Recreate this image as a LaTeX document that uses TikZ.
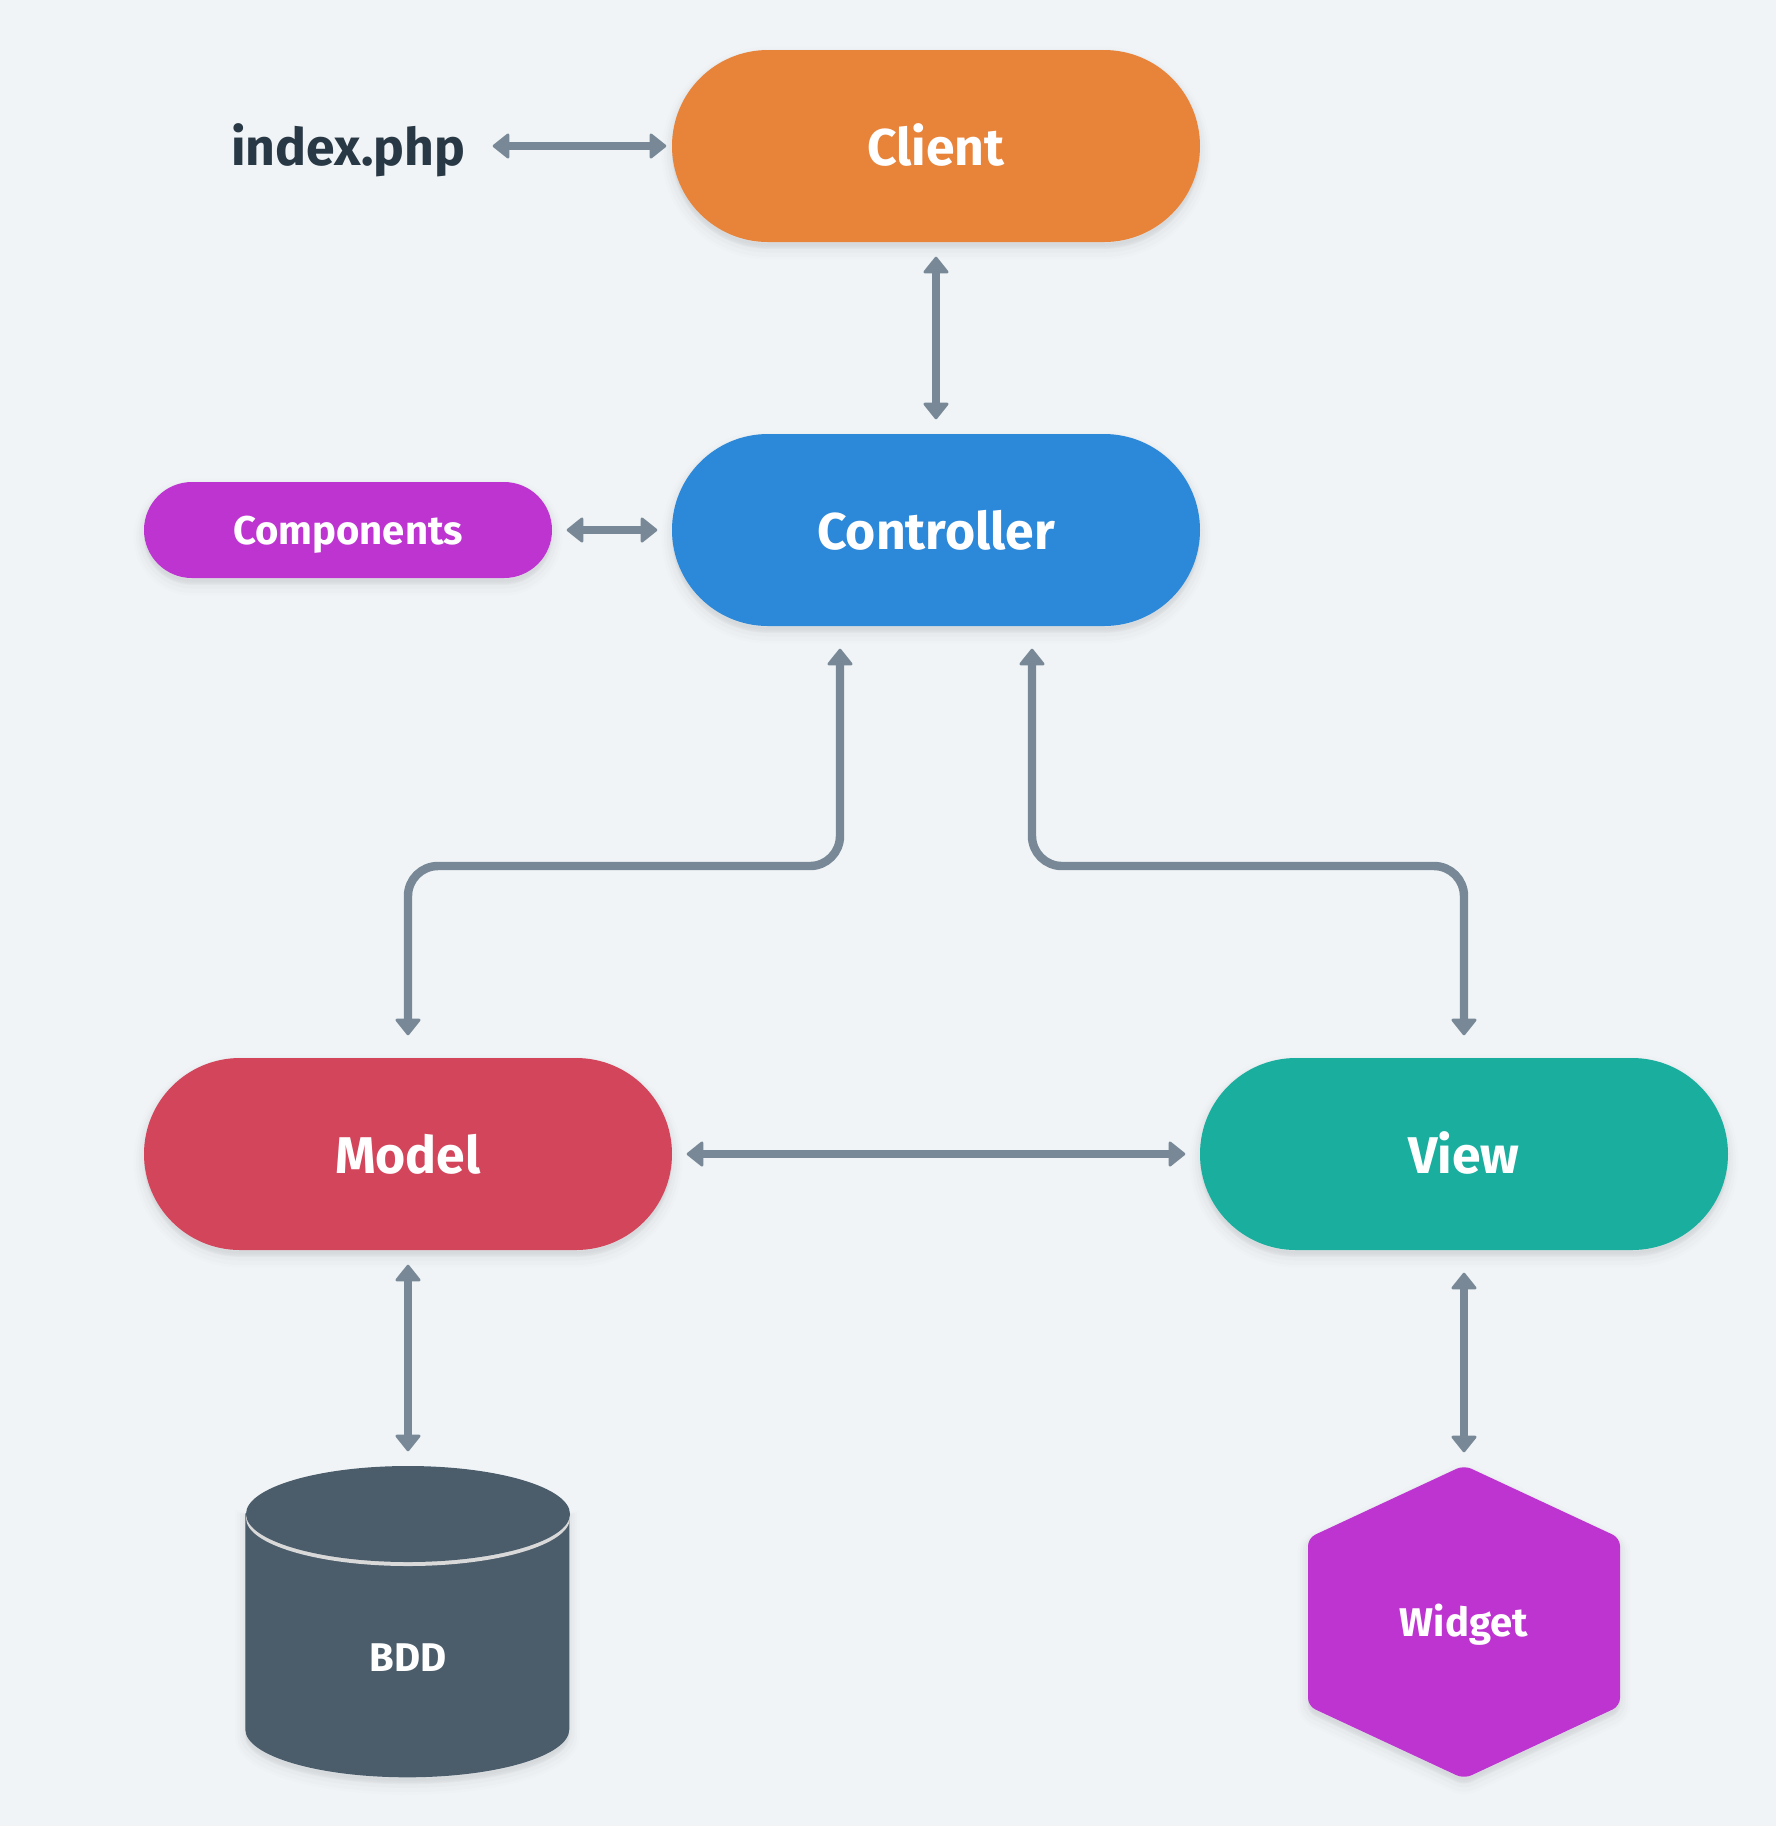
\documentclass[tikz,border=0pt]{standalone}
\usepackage{fontspec}
\setmainfont{Fira Sans}
\usetikzlibrary{arrows.meta,shadows}
\definecolor{bgcol}{HTML}{F0F4F7}
\definecolor{clientcol}{HTML}{E8833A}
\definecolor{ctrlcol}{HTML}{2C88D9}
\definecolor{modelcol}{HTML}{D3455B}
\definecolor{viewcol}{HTML}{1AAE9F}
\definecolor{purplecol}{HTML}{BD34D1}
\definecolor{dbcol}{HTML}{4B5C6B}
\definecolor{linkcol}{HTML}{788896}
\definecolor{inkcol}{HTML}{293845}
\tikzset{softshadow/.style={general shadow={fill=black,draw=black,line width=6pt,opacity=.008,shadow yshift=-2pt},
  general shadow={fill=black,draw=black,line width=4.5pt,opacity=.012,shadow yshift=-2pt},
  general shadow={fill=black,draw=black,line width=3pt,opacity=.014,shadow yshift=-1.5pt},
  general shadow={fill=black,draw=black,line width=1.5pt,opacity=.016,shadow yshift=-1pt}}}
\begin{document}
\begin{tikzpicture}
 \tikzstyle{bigtext}=[font=\bfseries\fontsize{14.7}{16}\selectfont, text height=11.2pt, text depth=0pt]
 \tikzstyle{smalltext}=[font=\bfseries\fontsize{11.4}{13}\selectfont, text height=8.5pt, text depth=0pt, text=white]
 \tikzstyle{pill}=[rectangle, inner sep=0pt, minimum width=5.28cm, minimum height=1.92cm, rounded corners=.96cm, text=white, bigtext, softshadow]
 \tikzstyle{smallpill}=[pill, minimum width=4.08cm, minimum height=.96cm, rounded corners=.48cm, smalltext]
 \tikzstyle{slot}=[rectangle, inner sep=0pt, minimum width=3.24cm, minimum height=3.12cm]
 \tikzstyle{link}=[draw=linkcol, line width=2.4pt, {Triangle[length=5pt,width=7.8pt,line width=.8pt,round]}-{Triangle[length=5pt,width=7.8pt,line width=.8pt,round]}]
\path[fill=bgcol, use as bounding box] (0,0) rectangle (17.76,-18.26);
\node[pill, fill=clientcol] (client) at (9.36,-1.46) {Client};
\node[pill, fill=ctrlcol] (controller) at (9.36,-5.30) {Controller};
\node[pill, fill=modelcol] (model) at (4.08,-11.54) {Model};
\node[pill, fill=viewcol] (view) at (14.64,-11.54) {View};
\node[smallpill, fill=purplecol] (components) at (3.48,-5.30) {Components};
\node[inner sep=0pt, text=inkcol, bigtext] (index) at (3.48,-1.46) {index.php};
% database drawn by hand
\node[slot] (bdd) at (4.08,-16.22) {};
\fill[dbcol, softshadow] (bdd.north west) ++(0,-.48) -- ++(0,-2.16) arc[start angle=180, end angle=360, x radius=1.62, y radius=.48] -- ++(0,2.16) -- cycle;
\fill[black!15] (4.08,-15.18) ellipse[x radius=1.62, y radius=.48];
\fill[dbcol] (4.08,-15.14) ellipse[x radius=1.62, y radius=.48];
\node[smalltext] (bddlabel) at (4.08,-16.57) {BDD};
% hexagon
\node[slot, minimum width=3.12cm] (widget) at (14.64,-16.22) {};
\fill[purplecol, rounded corners=.08cm, softshadow] (widget.north) -- (16.20,-15.38) -- (16.20,-17.06) -- (widget.south) -- (13.08,-17.06) -- (13.08,-15.38) -- cycle;
\node[smalltext] (widgetlabel) at (widget.center) {Widget};
\coordinate (elbowl) at (8.40,-8.66);
\coordinate (elbowr) at (10.32,-8.66);
\draw[link, shorten <=.27cm, shorten >=.05cm] (index) -- (client);
\draw[link, shorten <=.14cm, shorten >=.14cm] (client) -- (controller);
\draw[link, shorten <=.14cm, shorten >=.14cm] (components) -- (controller);
\draw[link, shorten <=.14cm, shorten >=.14cm] (model) -- (view);
\draw[link, shorten <=.14cm, shorten >=.14cm] (model) -- (bdd);
\draw[link, shorten <=.22cm, shorten >=.13cm] (view) -- (widget);
\draw[link, rounded corners=.3cm, shorten <=.22cm, shorten >=.22cm] (elbowl |- controller.south) -- (elbowl) -- (model |- elbowl) -- (model.north);
\draw[link, rounded corners=.3cm, shorten <=.22cm, shorten >=.22cm] (elbowr |- controller.south) -- (elbowr) -- (view |- elbowr) -- (view.north);
\end{tikzpicture}
\end{document}
